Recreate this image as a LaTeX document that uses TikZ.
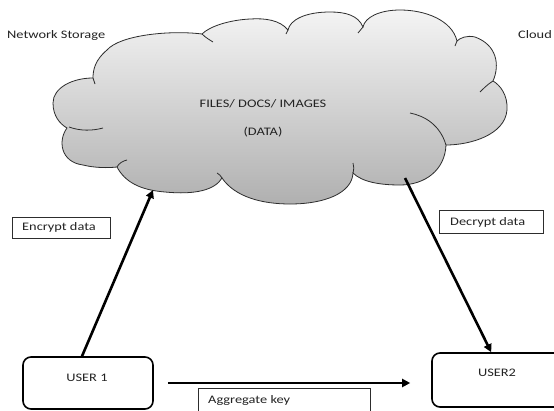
\documentclass[tikz,border=0pt]{standalone}
\usepackage{fontspec}
\setmainfont{Carlito}[FakeStretch=1.25]
\usetikzlibrary{arrows.meta,calc}
\definecolor{cloudtop}{RGB}{244,244,244}
\definecolor{cloudbot}{RGB}{176,176,176}
\definecolor{ink}{RGB}{45,45,45}
\definecolor{txt}{RGB}{35,35,35}
\begin{document}
\begin{tikzpicture}[x=1pt,y=-1pt,
  lbl/.style={inner sep=0pt, text=txt, font=\fontsize{11.5}{13}\selectfont},
  lblbox/.style={draw=ink, line width=0.9pt, inner sep=0pt},
  userbox/.style={draw=black, line width=1.6pt, rounded corners=8pt, inner sep=0pt},
  bigarrow/.style={line width=2.6pt, -{Triangle[length=8pt,width=8pt]}},
  cloudline/.style={draw=ink, line width=0.8pt}
]
\useasboundingbox (0,0) rectangle (554,410);
\fill[white] (0,0) rectangle (554,410);
\clip (0,0) rectangle (554,410);

% cloud body
\path[cloudline, top color=cloudtop, bottom color=cloudbot] (93,78)
 .. controls (72,78) and (53,88) .. (53,103)
 .. controls (53,116) and (60,124) .. (67,128)
 .. controls (58,140) and (60,162) .. (83,165)
 .. controls (95,168) and (108,168) .. (117,167)
 .. controls (125,182) and (140,190) .. (165,192)
 .. controls (195,195) and (215,190) .. (222,178)
 .. controls (235,197) and (262,204) .. (290,204)
 .. controls (325,204) and (352,193) .. (353,173)
 .. controls (362,182) and (380,185) .. (400,185)
 .. controls (425,185) and (445,170) .. (446,145)
 .. controls (470,145) and (505,135) .. (507,110)
 .. controls (508,95) and (500,85) .. (493,81)
 .. controls (500,65) and (497,45) .. (475,37)
 .. controls (467,35) and (460,38) .. (457,41)
 .. controls (452,20) and (425,10) .. (400,10)
 .. controls (380,10) and (365,17) .. (363,27)
 .. controls (358,15) and (345,12) .. (330,12)
 .. controls (305,12) and (290,20) .. (288,30)
 .. controls (280,20) and (265,18) .. (250,19)
 .. controls (230,20) and (210,26) .. (202,34)
 .. controls (170,30) and (120,35) .. (107,50)
 .. controls (95,60) and (93,70) .. (93,78) -- cycle;
% inner arc stubs of the cloud
\draw[cloudline] (69,127) .. controls (80,131) and (92,131) .. (103,128);
\draw[cloudline] (117,167) .. controls (119,163) and (123,161) .. (127,160);
\draw[cloudline] (222,178) .. controls (221,176) and (219,174) .. (217,173);
\draw[cloudline] (353,173) .. controls (354,169) and (354,166) .. (353,163);
\draw[cloudline] (446,145) .. controls (440,125) and (425,116) .. (410,113);
\draw[cloudline] (493,81) .. controls (488,84) and (484,88) .. (480,92);
\draw[cloudline] (457,41) .. controls (456,43) and (456,44) .. (455,46);
\draw[cloudline] (363,27) .. controls (361,29) and (360,31) .. (358,33);
\draw[cloudline] (288,30) .. controls (287,31) and (287,33) .. (286,34);
\draw[cloudline] (202,34) .. controls (206,38) and (210,40) .. (213,42);
\draw[cloudline] (93,78) .. controls (94,80) and (94,82) .. (95,84);

\node[lbl] (files) at (263,104) {FILES/ DOCS/ IMAGES};
\node[lbl] (data) at (263,132) {(DATA)};

\node[lbl, anchor=west] (netst) at (7,35) {Network Storage};
\node[lbl, anchor=west] (cloudlbl) at (518,35) {Cloud};

% users
\node[userbox, minimum width=130pt, minimum height=52pt] (user1) at (88,383) {};
\node[lbl] (user1t) at (87,378) {USER 1};
\node[userbox, minimum width=130pt, minimum height=54pt] (user2) at (497,380) {};
\node[lbl] (user2t) at (497,373) {USER2};

% connection points on the cloud
\coordinate (encend) at (153,190);
\coordinate (decstart) at (405,178);

\draw[bigarrow] ($(user1.north)+(-6,0)$) -- (encend);
\draw[bigarrow] (decstart) -- ($(user2.north west)+(60,0)$);
\draw[bigarrow, line width=2.4pt, shorten <=14pt, shorten >=21pt] (user1.east) -- (user1.east -| user2.west);

% label boxes
\node[lblbox, minimum width=98pt, minimum height=21pt] (encbox) at (61,227.5) {};
\node[lbl, anchor=west] (enct) at (22,227) {Encrypt data};
\node[lblbox, minimum width=104pt, minimum height=23pt] (decbox) at (491,221.5) {};
\node[lbl, anchor=west] (dect) at (450,222) {Decrypt data};
\node[lblbox, minimum width=172pt, minimum height=26pt] (aggbox) at (284,401) {};
\node[lbl, anchor=west] (aggt) at (208,400) {Aggregate key};
\end{tikzpicture}
\end{document}
